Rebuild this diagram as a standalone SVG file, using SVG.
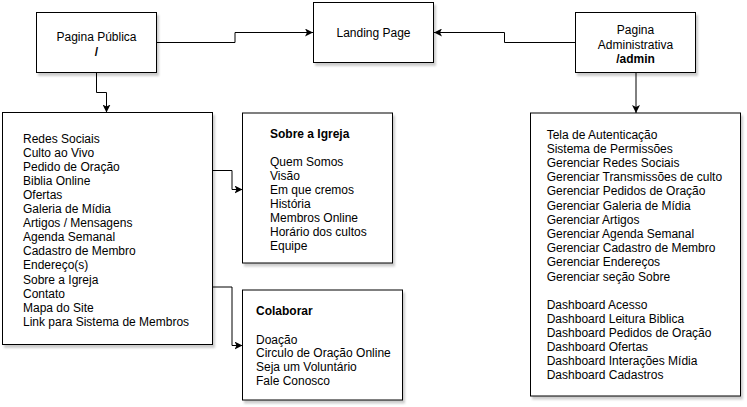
<svg xmlns="http://www.w3.org/2000/svg" width="747" height="407" viewBox="0 0 747 407">
<style>
text{font-family:"Liberation Sans",Arial,sans-serif;font-size:12px;fill:#000}
.c{text-anchor:middle}
.b{font-weight:bold}
.box{fill:#fff;stroke:#000;stroke-width:1;filter:url(#sh)}
.edge{fill:none;stroke:#000;stroke-width:1;marker-end:url(#arr)}
</style>
<defs>
<filter id="sh" x="-10%" y="-10%" width="130%" height="130%">
<feDropShadow dx="2" dy="3" stdDeviation="1.2" flood-color="#000" flood-opacity="0.2"/>
</filter>
<marker id="arr" viewBox="0 0 10 10" refX="10" refY="5" markerWidth="8" markerHeight="8" markerUnits="userSpaceOnUse" orient="auto">
<path d="M0,0 L10,5 L0,10 L2.5,5 Z" fill="#000"/>
</marker>
</defs>
<g id="connectors">
<path class="edge" d="M157,42.5 H235 V32.5 H313"/>
<path class="edge" d="M575,42.5 H504.5 V32.5 H434"/>
<path class="edge" d="M96.5,72.5 V92.5 H106.5 V112.5"/>
<path class="edge" d="M636,72.5 V113"/>
<path class="edge" d="M212.5,170.5 H232 V189.5 H242.5"/>
<path class="edge" d="M212.5,287 H232 V345.5 H242.5"/>
</g>
<g id="pagina-publica">
<rect class="box" x="36.5" y="12.5" width="120" height="60"/>
<text class="c" x="96.5" y="41">Pagina Pública</text>
<text class="c b" x="96.5" y="56">/</text>
</g>
<g id="landing-page">
<rect class="box" x="313.5" y="2.5" width="120" height="60"/>
<text class="c" x="373.5" y="37">Landing Page</text>
</g>
<g id="pagina-admin">
<rect class="box" x="575.5" y="12.5" width="120" height="60"/>
<text class="c" x="635.5" y="34.3">Pagina</text>
<text class="c" x="635.5" y="48.5">Administrativa</text>
<text class="c b" x="635.5" y="62.5">/admin</text>
</g>
<g id="lista-publica">
<rect class="box" x="2.5" y="112.5" width="210" height="232"/>
<text x="23" y="142.5">Redes Sociais<tspan x="23" dy="14.1">Culto ao Vivo</tspan><tspan x="23" dy="14.1">Pedido de Oração</tspan><tspan x="23" dy="14.1">Biblia Online</tspan><tspan x="23" dy="14.1">Ofertas</tspan><tspan x="23" dy="14.1">Galeria de Mídia</tspan><tspan x="23" dy="14.1">Artigos / Mensagens</tspan><tspan x="23" dy="14.1">Agenda Semanal</tspan><tspan x="23" dy="14.1">Cadastro de Membro</tspan><tspan x="23" dy="14.1">Endereço(s)</tspan><tspan x="23" dy="14.1">Sobre a Igreja</tspan><tspan x="23" dy="14.1">Contato</tspan><tspan x="23" dy="14.1">Mapa do Site</tspan><tspan x="23" dy="14.1">Link para Sistema de Membros</tspan></text>
</g>
<g id="sobre-igreja">
<rect class="box" x="242.5" y="113" width="150" height="150"/>
<text class="b" x="270" y="137.5">Sobre a Igreja</text>
<text x="270" y="166">Quem Somos<tspan x="270" dy="14">Visão</tspan><tspan x="270" dy="14">Em que cremos</tspan><tspan x="270" dy="14">História</tspan><tspan x="270" dy="14">Membros Online</tspan><tspan x="270" dy="14">Horário dos cultos</tspan><tspan x="270" dy="14">Equipe</tspan></text>
</g>
<g id="colaborar">
<rect class="box" x="242.5" y="290" width="160" height="110"/>
<text class="b" x="256" y="315.3">Colaborar</text>
<text x="256" y="343.5">Doação<tspan x="256" dy="13.9">Circulo de Oração Online</tspan><tspan x="256" dy="13.9">Seja um Voluntário</tspan><tspan x="256" dy="13.9">Fale Conosco</tspan></text>
</g>
<g id="lista-admin">
<rect class="box" x="530.5" y="113" width="210" height="283"/>
<text x="546.7" y="138.5">Tela de Autenticação<tspan x="546.7" dy="14.2">Sistema de Permissões</tspan><tspan x="546.7" dy="14.2">Gerenciar Redes Sociais</tspan><tspan x="546.7" dy="14.2">Gerenciar Transmissões de culto</tspan><tspan x="546.7" dy="14.2">Gerenciar Pedidos de Oração</tspan><tspan x="546.7" dy="14.2">Gerenciar Galeria de Mídia</tspan><tspan x="546.7" dy="14.2">Gerenciar Artigos</tspan><tspan x="546.7" dy="14.2">Gerenciar Agenda Semanal</tspan><tspan x="546.7" dy="14.2">Gerenciar Cadastro de Membro</tspan><tspan x="546.7" dy="14.2">Gerenciar Endereços</tspan><tspan x="546.7" dy="14.2">Gerenciar seção Sobre</tspan></text>
<text x="546.7" y="309.2">Dashboard Acesso<tspan x="546.7" dy="13.9">Dashboard Leitura Biblica</tspan><tspan x="546.7" dy="13.9">Dashboard Pedidos de Oração</tspan><tspan x="546.7" dy="13.9">Dashboard Ofertas</tspan><tspan x="546.7" dy="13.9">Dashboard Interações Mídia</tspan><tspan x="546.7" dy="13.9">Dashboard Cadastros</tspan></text>
</g>
</svg>
